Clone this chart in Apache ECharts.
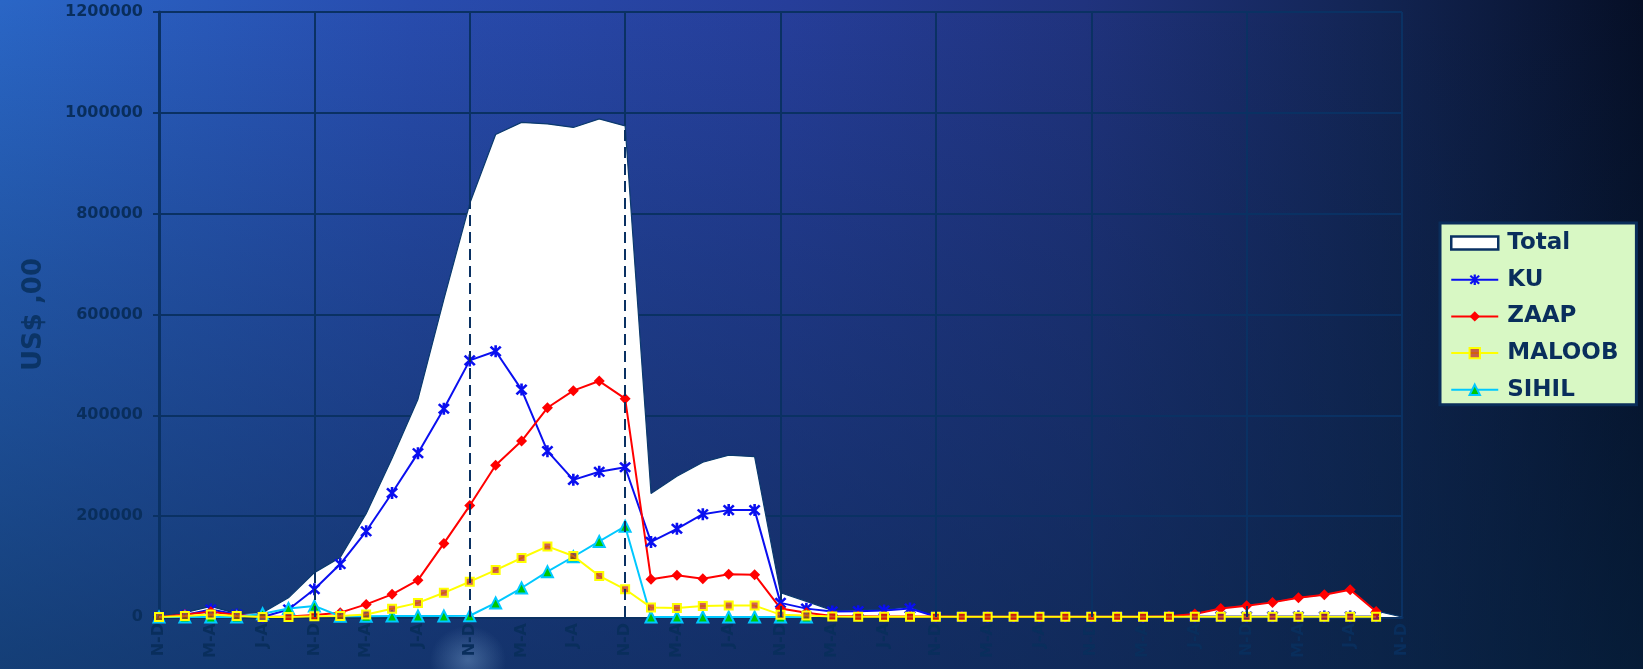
<!DOCTYPE html>
<html>
<head>
<meta charset="utf-8">
<script src="https://cdn.jsdelivr.net/npm/echarts@6/dist/echarts.min.js"></script>
<style>
  html, body { margin: 0; padding: 0; width: 1643px; height: 669px; overflow: hidden; }
  body {
    background:
      radial-gradient(ellipse 38px 34px at 468px 660px, rgba(120,160,205,0.45), rgba(120,160,205,0) 100%),
      linear-gradient(180deg, rgba(6,30,60,0) 0%, rgba(6,34,64,0.25) 40%, rgba(6,36,66,0.6) 100%),
      linear-gradient(90deg, #2a66c6 0%, #284cae 25%, #263e9a 48%, #20337e 66%, #122452 84%, #060f26 100%);
  }
  #chart { width: 1643px; height: 669px; }
</style>
</head>
<body>
<div id="chart"></div>
<script>
// Bimonthly periods (Spanish abbreviations), N-D of year 0 through N-D of year 8
const categories = [
  'N-D','E-F','M-A','M-J','J-A','S-O',
  'N-D','E-F','M-A','M-J','J-A','S-O',
  'N-D','E-F','M-A','M-J','J-A','S-O',
  'N-D','E-F','M-A','M-J','J-A','S-O',
  'N-D','E-F','M-A','M-J','J-A','S-O',
  'N-D','E-F','M-A','M-J','J-A','S-O',
  'N-D','E-F','M-A','M-J','J-A','S-O',
  'N-D','E-F','M-A','M-J','J-A','S-O',
  'N-D'
];

const totalValues = [
  0, 8600, 21000, 6600, 8600, 38000, 88000, 118000, 205000, 315000,
  432000, 630000, 820000, 957000, 981000, 978000, 971000, 988000, 974000, 245000,
  279000, 307000, 321000, 318000, 48000, 31000, 13000, 13500, 15000, 20000,
  1000, 1000, 1000, 1000, 1000, 1000, 1000, 1000, 1000, 2000,
  7000, 18000, 23000, 30000, 38500, 44500, 55000, 12000, 0
];

const kuValues = [
  0, 4000, 15000, 5000, 0, 15000, 55000, 105000, 170000, 246000,
  325000, 413000, 509000, 527000, 451000, 329000, 272000, 288000, 297000, 149000,
  175000, 204000, 212000, 212000, 28000, 16600, 11000, 11500, 13000, 17000,
  1000, 500, 500, 500, 500, 500, 500, 500, 500, 1000,
  1000, 1000, 1000, 1000, 1000, 1000, 1000, 1000, null
];

const zaapValues = [
  0, 5000, 10500, 4000, 0, 1000, 4000, 8600, 25000, 45000,
  73000, 146000, 221000, 301000, 349000, 415000, 449000, 468000, 433000, 75000,
  83000, 76000, 85000, 84000, 17000, 8600, 2000, 1500, 1000, 1000,
  1000, 500, 500, 500, 500, 500, 500, 500, 500, 1500,
  6000, 17000, 22500, 29000, 38000, 44000, 54000, 11000, null
];

const maloobValues = [
  0, 2000, 5000, 2000, 0, 0, 1500, 2000, 5000, 16500,
  28000, 48000, 70000, 93000, 117000, 140000, 121000, 81500, 55000, 19000,
  18000, 22000, 22600, 22600, 4600, 3000, 1000, 500, 500, 500,
  500, 500, 500, 500, 500, 500, 500, 500, 500, 500,
  500, 500, 500, 500, 500, 500, 500, 500, null
];

const sihilValues = [
  0, 0, 0, 0, 6600, 17000, 22000, 1500, 1500, 2000,
  2000, 2000, 2500, 28000, 57500, 90000, 119500, 150000, 180000, 0,
  0, 0, 0, 0, 0, 0, null, null, null, null,
  null, null, null, null, null, null, null, null, null, null,
  null, null, null, null, null, null, null, null, null
];

const yTicks = { min: 0, max: 1200000, interval: 200000 };
const yearBoundaryIndexes = [6, 12, 18, 24, 30, 36, 42];

const navy = '#0a3163';
const labelNavy = '#092e5c';
const font = 'DejaVu Sans';
// asterisk marker: X plus vertical bar
const asterisk = 'path://M4,0H6V10H4Z M0.4,1.8L1.8,0.4L9.6,8.2L8.2,9.6Z M8.2,0.4L9.6,1.8L1.8,9.6L0.4,8.2Z';

const chart = echarts.init(document.getElementById('chart'), null, { renderer: 'canvas' });

chart.setOption({
  backgroundColor: 'transparent',
  animation: false,
  grid: { left: 159, right: 241, top: 12, bottom: 52, containLabel: false },
  legend: {
    orient: 'vertical',
    left: 1440,
    top: 223,
    padding: [8, 10, 3, 10],
    itemGap: 12.7,
    itemWidth: 47,
    itemHeight: 13,
    backgroundColor: '#d8f8c4',
    borderColor: '#0a2d5a',
    borderWidth: 3,
    textStyle: {
      color: labelNavy, fontFamily: font, fontWeight: 'bold', fontSize: 23,
      lineHeight: 24, padding: [0, 8, 0, 4]
    },
    data: [
      { name: 'Total', icon: 'rect', itemStyle: { color: '#ffffff', borderColor: navy, borderWidth: 2.5 } },
      { name: 'KU' },
      { name: 'ZAAP' },
      { name: 'MALOOB' },
      { name: 'SIHIL' }
    ]
  },
  xAxis: {
    type: 'category',
    data: categories,
    boundaryGap: false,
    axisLine: { show: true, lineStyle: { color: navy, width: 3 } },
    axisTick: { show: false },
    axisLabel: {
      interval: 1, rotate: 90, margin: 6,
      color: labelNavy, fontFamily: font, fontWeight: 'bold', fontSize: 16
    },
    splitLine: {
      show: true,
      interval: function (idx) { return idx % 6 === 0; },
      lineStyle: { color: navy, width: 2 }
    }
  },
  yAxis: {
    type: 'value',
    min: yTicks.min, max: yTicks.max, interval: yTicks.interval,
    name: 'US$ ,00',
    nameLocation: 'middle',
    nameRotate: 90,
    nameGap: 112,
    nameTextStyle: { color: '#0b3466', fontFamily: font, fontWeight: 'bold', fontSize: 26 },
    axisLine: { show: true, lineStyle: { color: navy, width: 3 } },
    axisTick: { show: true, length: 6, lineStyle: { color: navy, width: 2 } },
    axisLabel: {
      margin: 16, color: labelNavy, fontFamily: font, fontWeight: 'bold', fontSize: 16,
      formatter: function (v) { return String(v); }
    },
    splitLine: { show: true, lineStyle: { color: navy, width: 2 } }
  },
  series: [
    {
      name: 'Total',
      type: 'line',
      data: totalValues,
      showSymbol: false,
      symbol: 'none',
      lineStyle: { color: '#0b3a6e', width: 1.2 },
      itemStyle: { color: '#ffffff' },
      areaStyle: { color: '#ffffff', opacity: 1 },
      z: 1,
      markLine: {
        silent: true,
        symbol: ['none', 'none'],
        label: { show: false },
        lineStyle: { color: navy, width: 2, type: [11, 6] },
        data: yearBoundaryIndexes.map(function (i) { return { xAxis: i }; })
      }
    },
    {
      name: 'KU',
      type: 'line',
      data: kuValues,
      symbol: asterisk,
      symbolSize: 12,
      lineStyle: { color: '#0a0ff0', width: 2 },
      itemStyle: { color: '#0a0ff0' },
      z: 3
    },
    {
      name: 'ZAAP',
      type: 'line',
      data: zaapValues,
      symbol: 'diamond',
      symbolSize: 11,
      lineStyle: { color: '#ff0000', width: 2 },
      itemStyle: { color: '#ff0000' },
      z: 3
    },
    {
      name: 'MALOOB',
      type: 'line',
      data: maloobValues,
      symbol: 'rect',
      symbolSize: 8,
      lineStyle: { color: '#ffff00', width: 2 },
      itemStyle: { color: 'rgba(190,30,20,0.7)', borderColor: '#ffff00', borderWidth: 2 },
      z: 4
    },
    {
      name: 'SIHIL',
      type: 'line',
      data: sihilValues,
      symbol: 'triangle',
      symbolSize: 11,
      lineStyle: { color: '#00c8ff', width: 2 },
      itemStyle: { color: '#00c800', borderColor: '#00c8ff', borderWidth: 2 },
      z: 3
    }
  ]
});
</script>
</body>
</html>
